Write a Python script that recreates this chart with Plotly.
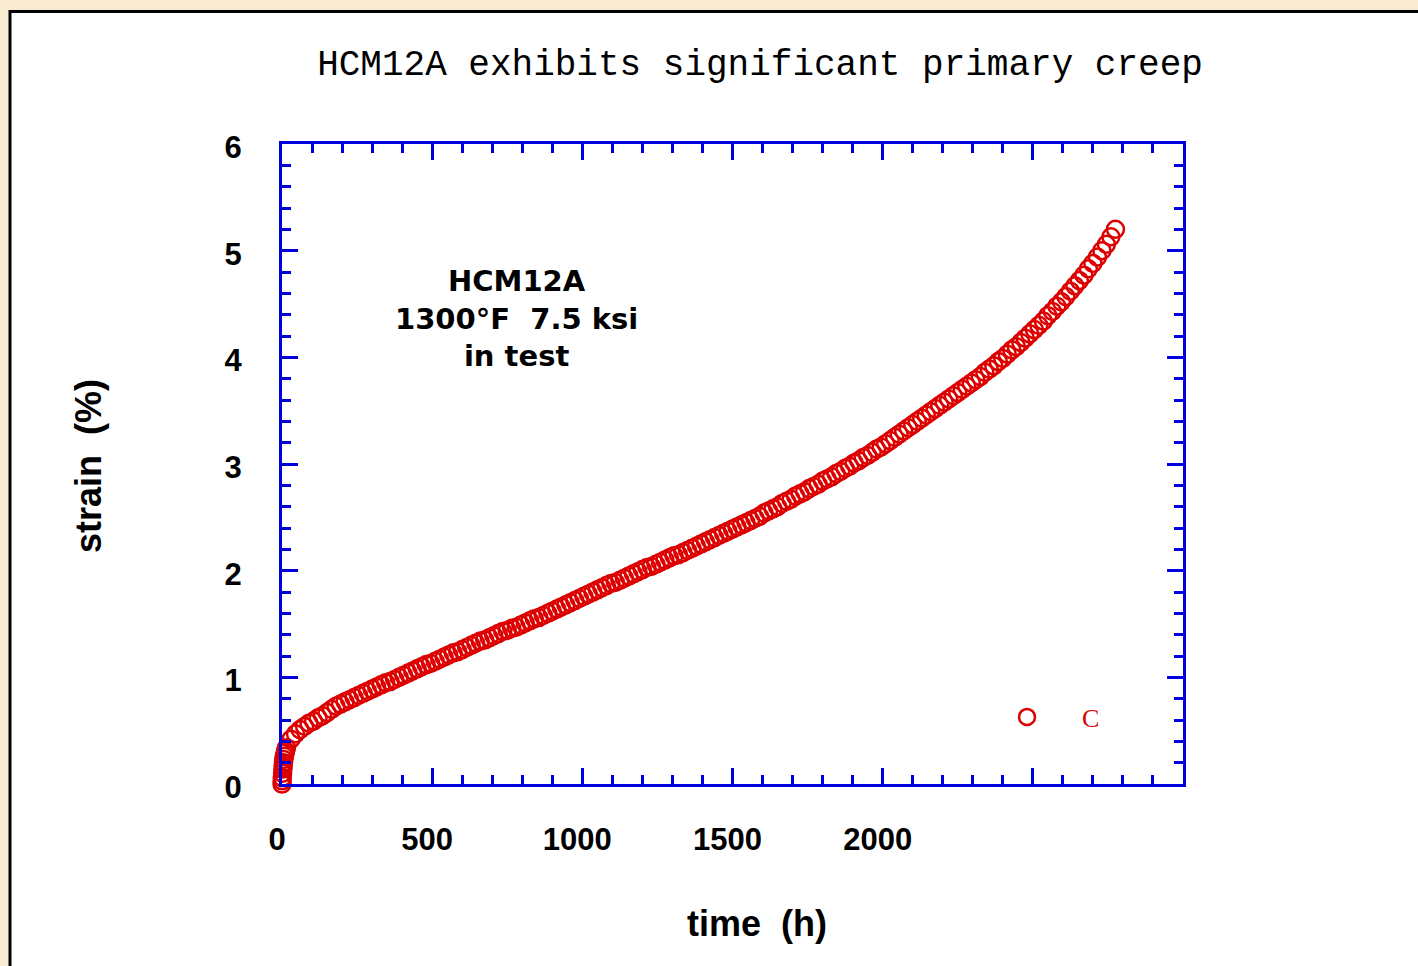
import plotly.graph_objects as go

# ---------------- data ----------------
time_h = [0, 0.5, 1, 2, 3, 4, 5, 6, 8, 10, 12,
          15, 30, 45, 60, 75, 90, 105, 120, 135, 150,
          165, 180, 195, 210, 225, 240, 255, 270, 285, 300,
          315, 330, 345, 360, 375, 390, 405, 420, 435, 450,
          465, 480, 495, 510, 525, 540, 555, 570, 585, 600,
          615, 630, 645, 660, 675, 690, 705, 720, 735, 750,
          765, 780, 795, 810, 825, 840, 855, 870, 885, 900,
          915, 930, 945, 960, 975, 990, 1005, 1020, 1035, 1050,
          1065, 1080, 1095, 1110, 1125, 1140, 1155, 1170, 1185, 1200,
          1215, 1230, 1245, 1260, 1275, 1290, 1305, 1320, 1335, 1350,
          1365, 1380, 1395, 1410, 1425, 1440, 1455, 1470, 1485, 1500,
          1515, 1530, 1545, 1560, 1575, 1590, 1605, 1620, 1635, 1650,
          1665, 1680, 1695, 1710, 1725, 1740, 1755, 1770, 1785, 1800,
          1815, 1830, 1845, 1860, 1875, 1890, 1905, 1920, 1935, 1950,
          1965, 1980, 1995, 2010, 2025, 2040, 2055, 2070, 2085, 2100,
          2115, 2130, 2145, 2160, 2175, 2190, 2205, 2220, 2235, 2250,
          2265, 2280, 2295, 2310, 2325, 2340, 2355, 2370, 2385, 2400,
          2415, 2430, 2445, 2460, 2475, 2490, 2505, 2520, 2535, 2550,
          2565, 2580, 2595, 2610, 2625, 2640, 2655, 2670, 2685, 2700,
          2715, 2730, 2745, 2760, 2775]

strain_pct = [0, 0.03, 0.06, 0.10, 0.14, 0.17, 0.20, 0.23, 0.26, 0.29, 0.31,
              0.34, 0.42, 0.47, 0.51, 0.54, 0.57, 0.59, 0.62, 0.64, 0.67,
              0.70, 0.73, 0.75, 0.77, 0.79, 0.81, 0.83, 0.85, 0.87, 0.89,
              0.91, 0.93, 0.95, 0.96, 0.98, 1.00, 1.02, 1.04, 1.06, 1.08,
              1.10, 1.12, 1.13, 1.15, 1.17, 1.19, 1.21, 1.23, 1.24, 1.26,
              1.28, 1.30, 1.32, 1.34, 1.35, 1.37, 1.39, 1.41, 1.43, 1.44,
              1.46, 1.47, 1.49, 1.51, 1.53, 1.55, 1.56, 1.58, 1.60, 1.62,
              1.64, 1.66, 1.68, 1.70, 1.72, 1.74, 1.76, 1.78, 1.80, 1.82,
              1.84, 1.86, 1.88, 1.89, 1.91, 1.93, 1.95, 1.97, 1.99, 2.01,
              2.03, 2.04, 2.06, 2.08, 2.10, 2.12, 2.14, 2.15, 2.17, 2.19,
              2.21, 2.23, 2.25, 2.27, 2.29, 2.31, 2.33, 2.35, 2.37, 2.39,
              2.41, 2.43, 2.45, 2.47, 2.49, 2.51, 2.54, 2.56, 2.58, 2.60,
              2.63, 2.65, 2.67, 2.70, 2.72, 2.74, 2.77, 2.79, 2.81, 2.84,
              2.86, 2.88, 2.91, 2.93, 2.96, 2.98, 3.01, 3.03, 3.06, 3.08,
              3.11, 3.14, 3.16, 3.19, 3.22, 3.25, 3.28, 3.31, 3.34, 3.37,
              3.40, 3.43, 3.46, 3.49, 3.52, 3.55, 3.58, 3.61, 3.64, 3.67,
              3.70, 3.73, 3.76, 3.79, 3.82, 3.86, 3.89, 3.92, 3.96, 3.99,
              4.03, 4.07, 4.10, 4.14, 4.18, 4.22, 4.26, 4.30, 4.34, 4.39,
              4.43, 4.48, 4.52, 4.57, 4.62, 4.67, 4.72, 4.77, 4.83, 4.88,
              4.94, 5.00, 5.06, 5.13, 5.20]

x_tickvals = [0, 500, 1000, 1500, 2000, 2500, 3000]
x_ticktext = ["0", "500", "1000", "1500", "2000", "", ""]
y_tickvals = [0, 1, 2, 3, 4, 5, 6]
y_ticktext = ["0", "1", "2", "3", "4", "5", "6"]

series_name = "C"
title_text = "HCM12A exhibits significant primary creep"
note_lines = ["HCM12A", "1300°F  7.5 ksi", "in test"]
x_title = "time  (h)"
y_title = "strain  (%)"

# ---------------- styling ----------------
RED = "#DD0000"
BLUE = "#0000DD"
CREAM = "#F9EBCF"
W, H = 1418, 966
L, R, T, B = 282, 1183, 144, 784   # plot area in pixels
pw, ph = R - L, B - T


def px_x(px):
    return (px - L) / pw


def px_y(py):
    return (B - py) / ph


fig = go.Figure()
fig.add_trace(go.Scatter(
    x=time_h, y=strain_pct, mode="markers", name=series_name,
    cliponaxis=False,
    marker=dict(symbol="circle-open", size=17, color=RED,
                line=dict(width=2.5, color=RED)),
))

axis_common = dict(
    showline=True, linecolor=BLUE, linewidth=3, mirror="allticks",
    ticks="inside", tickcolor=BLUE, tickwidth=2.5, ticklen=16,
    showgrid=False, zeroline=False,
    tickfont=dict(family="Liberation Sans, Arial, sans-serif", size=31,
                  color="black", weight="bold"),
)

fig.update_xaxes(
    range=[0, 3000], tickmode="array", tickvals=x_tickvals, ticktext=x_ticktext,
    minor=dict(ticks="inside", dtick=100, ticklen=9, tickwidth=2.5, tickcolor=BLUE),
    ticklabelstandoff=26, ticklabelshift=-5,
    **axis_common,
)
fig.update_yaxes(
    range=[0, 6], tickmode="array", tickvals=y_tickvals, ticktext=y_ticktext,
    minor=dict(ticks="inside", dtick=0.2, ticklen=9, tickwidth=2.5, tickcolor=BLUE),
    ticklabelstandoff=31, ticklabelshift=3,
    **axis_common,
)

bold_font = dict(family="Liberation Sans, Arial, sans-serif", color="black", weight="bold")

annotations = [
    dict(text="<br>".join(note_lines), x=px_x(516), y=px_y(318), xref="paper", yref="paper",
         xanchor="center", yanchor="middle", align="center", showarrow=False,
         font=dict(family="DejaVu Sans, Liberation Sans, sans-serif", size=29,
                   color="black", weight="bold")),
    dict(text=x_title, x=px_x(757), y=px_y(923), xref="paper", yref="paper",
         xanchor="center", yanchor="middle", showarrow=False,
         font=dict(size=36, **bold_font)),
    dict(text=y_title, x=px_x(88), y=px_y(466), xref="paper", yref="paper",
         xanchor="center", yanchor="middle", showarrow=False, textangle=-90,
         font=dict(size=36, **bold_font)),
]

fig.update_layout(
    width=W, height=H, autosize=False,
    margin=dict(l=L, r=W - R, t=T, b=H - B, pad=0),
    paper_bgcolor=CREAM, plot_bgcolor="white",
    title=dict(text=title_text, x=px_x(760), xref="paper", xanchor="center",
               y=1 - 62 / H, yref="container", yanchor="middle",
               font=dict(family="Liberation Mono, Courier New, monospace", size=36, color="black")),
    showlegend=True,
    legend=dict(x=px_x(972), y=px_y(717), xanchor="left", yanchor="middle",
                bgcolor="rgba(0,0,0,0)", borderwidth=0, itemwidth=100,
                font=dict(family="Liberation Serif, Times New Roman, serif", size=26, color=RED)),
    annotations=annotations,
    shapes=[dict(type="rect", xref="paper", yref="paper", layer="below",
                 x0=px_x(10), x1=px_x(1600), y0=px_y(1200), y1=px_y(11.5),
                 fillcolor="white", line=dict(color="black", width=3))],
)

fig.write_html("out.html")
